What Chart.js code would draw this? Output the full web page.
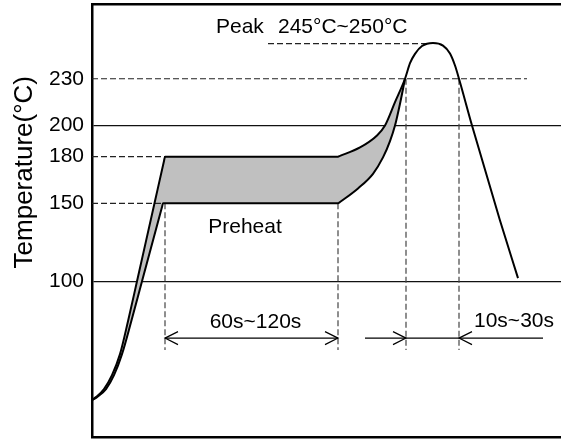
<!DOCTYPE html>
<html><head><meta charset="utf-8">
<script src="https://cdn.jsdelivr.net/npm/chart.js@4.4.0/dist/chart.umd.min.js"></script>
<style>html,body{margin:0;padding:0;background:#fff;}#wrap{width:561px;height:439px;position:relative;}</style>
</head><body><div id="wrap"><canvas id="c"></canvas></div>
<script>
// ---- data (time in arbitrary units, temperature in °C) ----
const yTicks = [100, 150, 180, 200, 230];
const solidGrid = [100, 200];

// outer (upper/left) profile
const outerTime = [0, 4, 12, 20, 28, 36, 45, 63, 72, 73, 246, 248, 268, 285, 293, 303, 313, 318, 323, 330, 341, 351, 358, 363, 367, 380, 408, 426];
const outerTemp = [23.7, 25.6, 30.8, 39.7, 53.2, 74.3, 100, 151.5, 177.2, 180, 180, 180.5, 185.9, 193.6, 200, 215, 230, 240, 246, 251, 253, 251.3, 246.2, 238.5, 230, 200, 139, 102];

// inner (lower/right) profile
const innerTime = [0, 5, 14, 22, 30, 39, 50, 70, 71, 246, 248, 266, 281, 291, 298, 303, 308, 313];
const innerTemp = [23.7, 25.6, 30.8, 39.7, 53.2, 73.7, 100, 147.6, 150, 150, 150.9, 159.6, 169, 179.5, 190, 200, 214, 230];

// dashed horizontal guides
const hGuideTemp = [230, 180, 150, 252.6];
const hGuideFrom = [0, 0, 0, 176];
const hGuideTo = [435, 73, 72, 338];

// dashed vertical guides
const vGuideTime = [73, 246, 314, 367];
const vGuideTop = [150, 150, 230, 230];
const vGuideBottom = 55.8;

// dimension arrows
const arrowTemp = 63.5;
const arrowFrom = [73, 273, 314, 367];
const arrowTo = [246, 314, 367, 451];
const headTime = [73, 246, 314, 367];
const headDir = [-1, 1, 1, -1];

// annotation texts
const noteText = ['Peak', '245°C~250°C', 'Preheat', '60s~120s', '10s~30s'];
const noteTime = [124, 186, 153, 163.5, 422];
const noteTemp = [259.6, 259.6, 130.8, 69.9, 70.5];
const noteAlign = ['left', 'left', 'center', 'center', 'center'];
const yTitle = 'Temperature(°C)';
const yTitleTemp = 170;

const FONT = '"Liberation Sans", Arial, Helvetica, sans-serif';

const pts = (xs, ys) => xs.map((x, i) => ({x, y: ys[i]}));

const datasets = [];
datasets.push({data: pts(outerTime, outerTemp), borderColor: '#000', borderWidth: 2, cubicInterpolationMode: 'monotone', fill: '+1', backgroundColor: '#c0c0c0', pointRadius: 0});
datasets.push({data: pts(innerTime, innerTemp), borderColor: '#000', borderWidth: 2, cubicInterpolationMode: 'monotone', fill: false, pointRadius: 0});
hGuideTemp.forEach((t, i) => datasets.push({data: [{x: hGuideFrom[i], y: t}, {x: hGuideTo[i], y: t}], borderColor: '#222', borderWidth: 1.2, borderDash: [6, 3], pointRadius: 0, fill: false}));
vGuideTime.forEach((t, i) => datasets.push({data: [{x: t, y: vGuideTop[i]}, {x: t, y: vGuideBottom}], borderColor: '#444', borderWidth: 1.2, borderDash: [6, 3], pointRadius: 0, fill: false}));
arrowFrom.forEach((a, i) => datasets.push({data: [{x: a, y: arrowTemp}, {x: arrowTo[i], y: arrowTemp}], borderColor: '#000', borderWidth: 1.2, pointRadius: 0, fill: false}));

const annot = {
  id: 'annot',
  afterDraw(chart) {
    const {ctx, scales: {x, y}, chartArea} = chart;
    ctx.save();
    ctx.strokeStyle = '#000';
    ctx.lineWidth = 1.2;
    headTime.forEach((t, i) => {
      const px = x.getPixelForValue(t), py = y.getPixelForValue(arrowTemp);
      const d = headDir[i];
      ctx.beginPath();
      ctx.moveTo(px - d * 13, py - 6.5);
      ctx.lineTo(px, py);
      ctx.lineTo(px - d * 13, py + 6.5);
      ctx.stroke();
    });
    ctx.fillStyle = '#000';
    ctx.textBaseline = 'alphabetic';
    ctx.font = '21px ' + FONT;
    noteText.forEach((s, i) => {
      ctx.textAlign = noteAlign[i];
      ctx.fillText(s, x.getPixelForValue(noteTime[i]), y.getPixelForValue(noteTemp[i]));
    });
    ctx.font = '26px ' + FONT;
    ctx.translate(chartArea.left - 60, y.getPixelForValue(yTitleTemp));
    ctx.rotate(-Math.PI / 2);
    ctx.textAlign = 'center';
    ctx.fillText(yTitle, 0, 0);
    ctx.restore();
  }
};

const noPad = s => { s.paddingTop = 0; s.paddingBottom = 0; s.paddingLeft = 0; s.paddingRight = 0; };

new Chart(document.getElementById('c'), {
  type: 'line',
  data: {datasets},
  options: {
    responsive: true,
    maintainAspectRatio: false,
    animation: false,
    layout: {padding: {top: 2, bottom: 0, left: 0, right: 0}},
    plugins: {legend: {display: false}, tooltip: {enabled: false}, filler: {drawTime: 'beforeDatasetsDraw'}},
    scales: {
      x: {
        type: 'linear', min: 0, max: 469, position: 'bottom',
        ticks: {display: false}, grid: {display: false, drawTicks: false},
        border: {display: true, width: 2.5, color: '#000'},
        afterFit(s) { s.height = 2; noPad(s); }
      },
      x2: {
        type: 'linear', min: 0, max: 1, position: 'top',
        ticks: {display: false}, grid: {display: false, drawTicks: false},
        border: {display: true, width: 2.5, color: '#000'},
        afterFit(s) { s.height = 2; noPad(s); }
      },
      y: {
        type: 'linear', min: 0, max: 278, position: 'left', z: 1,
        afterBuildTicks(s) { s.ticks = yTicks.map(v => ({value: v})); },
        ticks: {padding: 8, color: '#000', font: {family: FONT, size: 21}, autoSkip: false},
        grid: {drawTicks: false, lineWidth: 1.3, color: c => (c.tick && solidGrid.includes(c.tick.value)) ? '#111' : 'rgba(0,0,0,0)'},
        border: {display: true, width: 2.5, color: '#000'},
        afterFit(s) { s.width = 92; noPad(s); }
      }
    }
  },
  plugins: [annot]
});
</script>
</body></html>
